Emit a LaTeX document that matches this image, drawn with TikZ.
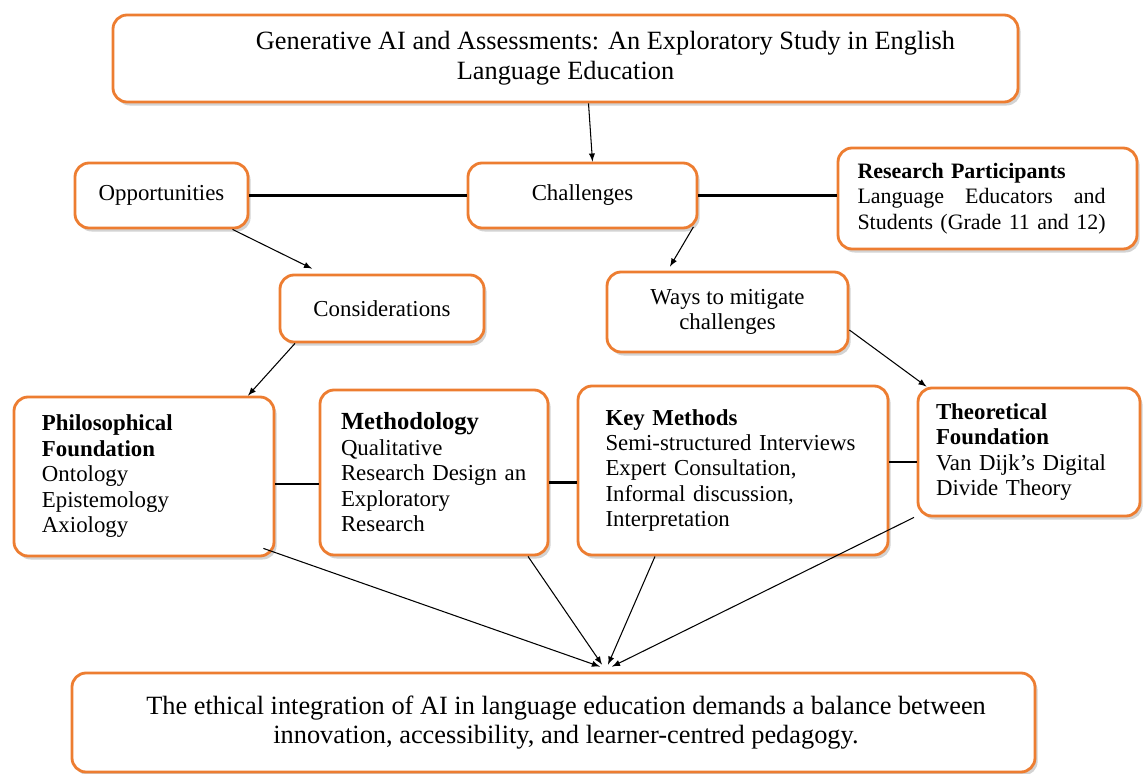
\documentclass[tikz,border=0pt]{standalone}
\usepackage{fontspec}
\setmainfont{Liberation Serif}
\usetikzlibrary{arrows,shadows}
\definecolor{boxorange}{HTML}{ED7D31}
\newlength\partwidth
\tikzset{
	blok/.style={draw=boxorange, line width=1.6pt, rounded corners=8pt, fill=white, inner sep=0pt,
		drop shadow={shadow xshift=1.5pt, shadow yshift=-2pt, opacity=0.35},
		font=\fontsize{13}{14.5}\selectfont},
	link/.style={line width=1.6pt},
	flow/.style={-latex, line width=0.6pt},
}

\begin{document}
\begin{tikzpicture}
		\useasboundingbox (0,0) rectangle (22.86,-15.48);

		\node (title)[blok, minimum width=18.1cm, minimum height=1.74cm, align=center, font=\fontsize{15}{17}\selectfont]at (11.31,-1.17) {\hspace*{1.6cm}Generative AI and Assessments: An Exploratory Study in English\\ Language Education};
		\node (opp)[blok, minimum width=3.46cm, minimum height=1.3cm, align=center]at (3.23,-3.91) {Opportunities};
		\node (chal)[blok, minimum width=4.58cm, minimum height=1.3cm, align=center]at (11.65,-3.91) {Challenges};
		\node (part)[blok, minimum width=5.98cm, minimum height=2.02cm, text width=5.2cm, align=left, font=\fontsize{12.5}{14.5}\selectfont]at (19.75,-3.97) {\settowidth{\partwidth}{Students (Grade 11 and 12)}\textbf{Research Participants}\\ \makebox[\partwidth][l]{Language\hfill Educators\hfill and}\\ \mbox{Students (Grade 11 and 12)}};
		\node (cons)[blok, minimum width=4.08cm, minimum height=1.34cm, align=center]at (7.64,-6.17) {Considerations};
		\node (ways)[blok, minimum width=4.82cm, minimum height=1.6cm, align=center]at (14.55,-6.24) {Ways to mitigate\\ challenges};
		\node (phil)[blok, minimum width=5.2cm, minimum height=3.18cm, text width=4.08cm, align=left]at (2.88,-9.53) {\textbf{Philosophical}\\ \textbf{Foundation}\\ Ontology\\ Epistemology\\ Axiology};
		\node (meth)[blok, minimum width=4.56cm, minimum height=3.3cm, text width=3.72cm, align=left]at (8.68,-9.45) {{\fontsize{14}{14.5}\selectfont\textbf{Methodology}}\\ Qualitative\\ Research Design an\\ Exploratory\\ Research};
		\node (keym)[blok, minimum width=6.2cm, minimum height=3.38cm, text width=5.1cm, align=left]at (14.66,-9.41) {\textbf{Key Methods}\\ Semi-structured Interviews\\ Expert Consultation,\\ Informal discussion,\\ Interpretation};
		\node (theo)[blok, minimum width=4.44cm, minimum height=2.56cm, text width=3.72cm, align=left]at (20.58,-9.04) {\textbf{Theoretical}\\ \textbf{Foundation}\\ Van Dijk’s Digital\\ Divide Theory};
		\node (concl)[blok, minimum width=19.26cm, minimum height=1.98cm, align=center, font=\fontsize{15}{17}\selectfont]at (11.07,-14.45) {\hspace*{0.5cm}The ethical integration of AI in language education demands a balance between\\ \hspace*{0.5cm}innovation, accessibility, and learner-centred pedagogy.};

		% plain joins
		\draw [link](opp.east)--(chal.west);
		\draw [link](chal.east)--(chal.east -| part.west);
		\draw [link]([yshift=-0.15cm]phil.east)--([yshift=-0.15cm]phil.east -| meth.west);
		\draw [link]([yshift=-0.2cm]meth.east)--([yshift=-0.2cm]meth.east -| keym.west);
		\draw [link]([yshift=0.17cm]keym.east)--([yshift=0.17cm]keym.east -| theo.west);

		% arrows
		\draw [flow]([xshift=0.46cm]title.south)--([xshift=0.2cm]chal.north);
		\draw [flow]([xshift=1.42cm]opp.south)--([xshift=-1.4cm,yshift=0.1cm]cons.north);
		\draw [flow]([xshift=-0.1cm,yshift=0.05cm]chal.south east)--([xshift=-1.15cm,yshift=0.08cm]ways.north);
		\draw [flow]([xshift=-1.74cm]cons.south)--([xshift=2.08cm]phil.north);
		\draw [flow]([yshift=-0.36cm]ways.east)--([xshift=-2.05cm]theo.north);

		\coordinate (tipa) at ([xshift=0.93cm,yshift=0.1cm]concl.north);
		\coordinate (tipb) at ([xshift=0.97cm,yshift=0.14cm]concl.north);
		\coordinate (tipc) at ([xshift=1.09cm,yshift=0.14cm]concl.north);
		\coordinate (tipd) at ([xshift=1.17cm,yshift=0.1cm]concl.north);
		\draw [flow]([xshift=-0.24cm,yshift=0.18cm]phil.south east)--(tipa);
		\draw [flow]([xshift=1.88cm]meth.south)--(tipb);
		\draw [flow]([xshift=-1.56cm]keym.south)--(tipc);
		\draw [flow]([xshift=-2.3cm]theo.south)--(tipd);
	\end{tikzpicture}
\end{document}
